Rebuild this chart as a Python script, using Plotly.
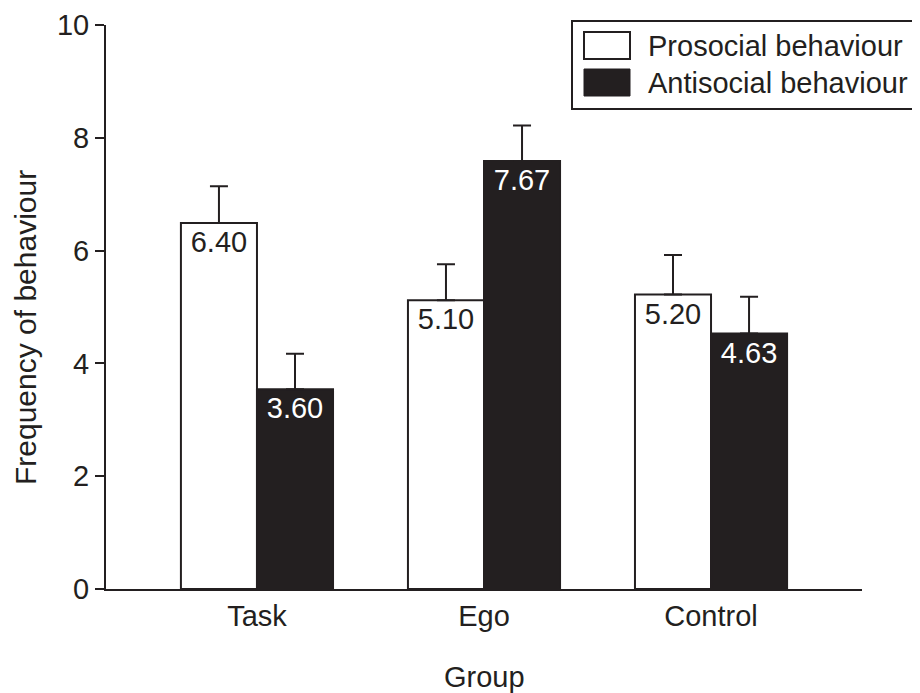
import plotly.graph_objects as go

groups = ["Task", "Ego", "Control"]
prosocial = [6.49, 5.12, 5.22]
antisocial = [3.54, 7.59, 4.53]
prosocial_err = [0.65, 0.64, 0.70]
antisocial_err = [0.63, 0.63, 0.65]
prosocial_labels = ["6.40", "5.10", "5.20"]
antisocial_labels = ["3.60", "7.67", "4.63"]
series_names = ["Prosocial behaviour", "Antisocial behaviour"]
y_ticks = [0, 2, 4, 6, 8, 10]
x_title = "Group"
y_title = "Frequency of behaviour"

INK = "#231f20"
FONT = "Liberation Sans, Arial, sans-serif"
FS = 29

# page layout (page body has an 8px offset)
W, H = 912, 685
ML, MR, MT, MB = 98, 58, 17, 104
OFF = 8
PLOT_L = OFF + ML
PLOT_B = OFF + H - MB
PW = W - ML - MR
PH = H - MT - MB


def px(x):
    return (x - PLOT_L) / PW


def py(y):
    return (PLOT_B - y) / PH


fig = go.Figure()
fig.add_trace(go.Bar(
    x=groups, y=prosocial, name=series_names[0],
    marker=dict(color="white", line=dict(color=INK, width=2)),
    text=prosocial_labels, textposition="inside", insidetextanchor="end",
    textangle=0, constraintext="none",
    textfont=dict(family=FONT, size=FS, color=INK),
    error_y=dict(type="data", array=prosocial_err, arrayminus=[0, 0, 0],
                 symmetric=False, thickness=2, width=9, color=INK),
    showlegend=False,
))
fig.add_trace(go.Bar(
    x=groups, y=antisocial, name=series_names[1],
    marker=dict(color=INK, line=dict(color=INK, width=2)),
    text=antisocial_labels, textposition="inside", insidetextanchor="end",
    textangle=0, constraintext="none",
    textfont=dict(family=FONT, size=FS, color="white"),
    error_y=dict(type="data", array=antisocial_err, arrayminus=[0, 0, 0],
                 symmetric=False, thickness=2, width=9, color=INK),
    showlegend=False,
))

# custom legend box
shapes = [
    dict(type="rect", xref="paper", yref="paper", x0=px(572), x1=px(926), y0=py(109), y1=py(21),
         line=dict(color=INK, width=2), fillcolor="white", layer="above"),
    dict(type="rect", xref="paper", yref="paper", x0=px(584), x1=px(630), y0=py(59), y1=py(32),
         line=dict(color=INK, width=2), fillcolor="white", layer="above"),
    dict(type="rect", xref="paper", yref="paper", x0=px(584), x1=px(630), y0=py(96), y1=py(69),
         line=dict(color=INK, width=1), fillcolor=INK, layer="above"),
]
annotations = [
    dict(xref="paper", yref="paper", x=px(646), y=py(45.5), text=series_names[0],
         showarrow=False, xanchor="left", yanchor="middle",
         font=dict(family=FONT, size=FS, color=INK)),
    dict(xref="paper", yref="paper", x=px(646), y=py(82.5), text=series_names[1],
         showarrow=False, xanchor="left", yanchor="middle",
         font=dict(family=FONT, size=FS, color=INK)),
    dict(xref="paper", yref="paper", x=px(25), y=py(328), text=y_title,
         textangle=-90, showarrow=False, xanchor="center", yanchor="middle",
         font=dict(family=FONT, size=30, color=INK)),
    dict(xref="paper", yref="paper", x=0.5, y=py(677), text=x_title,
         showarrow=False, xanchor="center", yanchor="middle",
         font=dict(family=FONT, size=FS, color=INK)),
]

fig.update_layout(
    width=W, height=H,
    margin=dict(l=ML, r=MR, t=MT, b=MB),
    paper_bgcolor="white", plot_bgcolor="white",
    barmode="group", bargap=0.33, bargroupgap=0,
    font=dict(family=FONT, size=FS, color=INK),
    shapes=shapes, annotations=annotations,
    xaxis=dict(
        range=[-0.665, 2.665], showline=True, linecolor=INK, linewidth=2,
        ticks="", showgrid=False, zeroline=False, automargin=False,
        tickfont=dict(family=FONT, size=FS, color=INK),
    ),
    yaxis=dict(
        range=[0, 10], tickvals=y_ticks, showline=True, linecolor=INK, linewidth=2,
        ticks="outside", ticklen=9, tickwidth=2, tickcolor=INK,
        showgrid=False, zeroline=False, automargin=False,
        ticklabeloverflow="allow",
        tickfont=dict(family=FONT, size=FS, color=INK),
    ),
)

fig.write_html("out.html")
